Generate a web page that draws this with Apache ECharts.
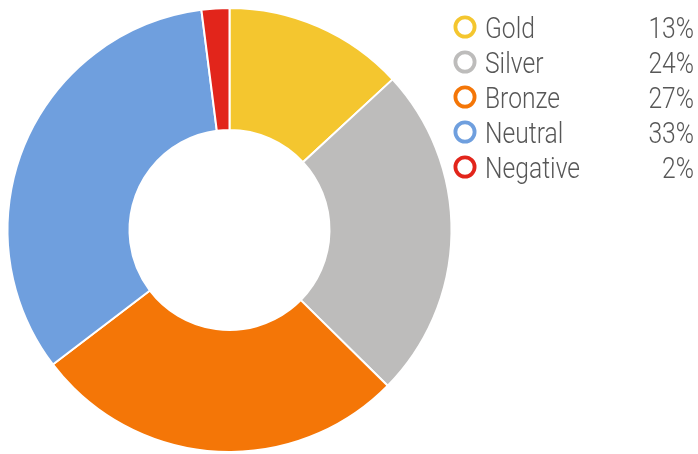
<!DOCTYPE html>
<html>
<head>
<meta charset="utf-8">
<script src="https://cdn.jsdelivr.net/npm/echarts@6/dist/echarts.min.js"></script>
<style>
html,body{margin:0;padding:0;background:#fff;}
#c{width:698px;height:454px;}
</style>
</head>
<body>
<div id="c"></div>
<script>
const categories = ['Gold', 'Silver', 'Bronze', 'Neutral', 'Negative'];
const values = [13, 24, 27, 33, 2];
const labels = ['13%', '24%', '27%', '33%', '2%'];
const colors = ['#F4C62F', '#BDBCBB', '#F47607', '#6F9FDE', '#E2251B'];

const FONT = 'Roboto, "Noto Sans", sans-serif';
const SX = 0.85;

const legendItems = [];
categories.forEach((c, i) => {
  const cy = 27 + i * 35;
  const top = 16 + i * 35;
  legendItems.push({
    type: 'circle',
    shape: {cx: 465, cy: cy, r: 9.6},
    style: {fill: '#fff', stroke: colors[i], lineWidth: 3.8},
    silent: true
  });
  legendItems.push({
    type: 'text',
    x: 485, y: top,
    scaleX: SX, originX: 0, originY: 0,
    style: {text: c, fontFamily: FONT, fontSize: 29, fontWeight: 300, fill: '#575757', align: 'left', verticalAlign: 'top'},
    silent: true
  });
  legendItems.push({
    type: 'text',
    x: 694, y: top,
    scaleX: SX, originX: 0, originY: 0,
    style: {text: labels[i], fontFamily: FONT, fontSize: 29, fontWeight: 300, fill: '#575757', align: 'right', verticalAlign: 'top'},
    silent: true
  });
});

const chart = echarts.init(document.getElementById('c'), null, {renderer: 'canvas'});
chart.setOption({
  animation: false,
  backgroundColor: '#fff',
  graphic: legendItems,
  series: [{
    type: 'pie',
    center: [229.5, 230],
    radius: [100, 222],
    startAngle: 90,
    clockwise: true,
    label: {show: false},
    labelLine: {show: false},
    emphasis: {disabled: true},
    itemStyle: {borderColor: '#fff', borderWidth: 2},
    data: categories.map((c, i) => ({name: c, value: values[i], itemStyle: {color: colors[i]}}))
  }]
});
</script>
</body>
</html>
